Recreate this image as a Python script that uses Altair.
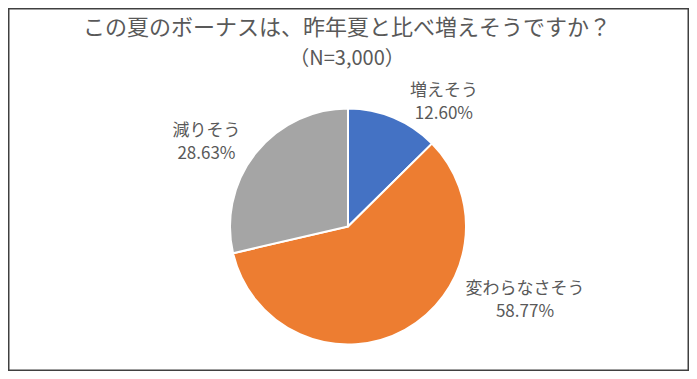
import altair as alt
import pandas as pd

categories = ["増えそう", "変わらなさそう", "減りそう"]
values = [12.60, 58.77, 28.63]
colors = ["#4472C4", "#ED7D31", "#A5A5A5"]
title_lines = ["この夏のボーナスは、昨年夏と比べ増えそうですか？", "（N=3,000）"]

df = pd.DataFrame({"cat": categories, "value": values, "order": list(range(len(categories)))})

FONT = "Noto Sans CJK JP"
TXT = "#595959"
CX, CY, R = 340, 218.5, 118

base = alt.Chart(df).transform_calculate(
    label="datum.cat + '\\n' + format(datum.value, '.2f') + '%'"
).encode(
    theta=alt.Theta("value:Q", stack=True, scale=alt.Scale(domain=[0, 100])),
    order=alt.Order("order:Q"),
    color=alt.Color("cat:N", scale=alt.Scale(domain=categories, range=colors), legend=None),
)

arcs = base.mark_arc(outerRadius=R, stroke="white", strokeWidth=2).encode(
    x=alt.value(CX), y=alt.value(CY)
)

def label_layer(cat, dx, dy):
    return base.mark_text(
        radius=145, dx=dx, dy=dy, font=FONT, fontSize=17, color=TXT,
        lineBreak="\n", lineHeight=23, align="center", baseline="middle",
    ).encode(
        x=alt.value(CX), y=alt.value(CY),
        text=alt.condition(f"datum.cat == '{cat}'", "label:N", alt.value("")),
        color=alt.value(TXT),
    )

labels = [
    label_layer(categories[0], 40, -2),
    label_layer(categories[1], 107, -64),
    label_layer(categories[2], -28, -5),
]

tdf = pd.DataFrame({"t": title_lines, "i": [0, 1]})
title1 = alt.Chart(tdf).transform_filter("datum.i == 0").mark_text(
    font=FONT, fontSize=22, color=TXT, align="center", baseline="middle"
).encode(text="t:N", x=alt.value(339), y=alt.value(20))
title2 = alt.Chart(tdf).transform_filter("datum.i == 1").mark_text(
    font=FONT, fontSize=20, color=TXT, align="center", baseline="middle"
).encode(text="t:N", x=alt.value(339), y=alt.value(51))

chart = alt.layer(arcs, *labels, title1, title2).properties(
    width=681, height=363, autosize=alt.AutoSizeParams(type="none"), padding=0,
    background="white",
).configure_view(stroke="#404040", strokeWidth=3)

chart.save("out.html", embed_options={"renderer": "svg", "actions": False})
